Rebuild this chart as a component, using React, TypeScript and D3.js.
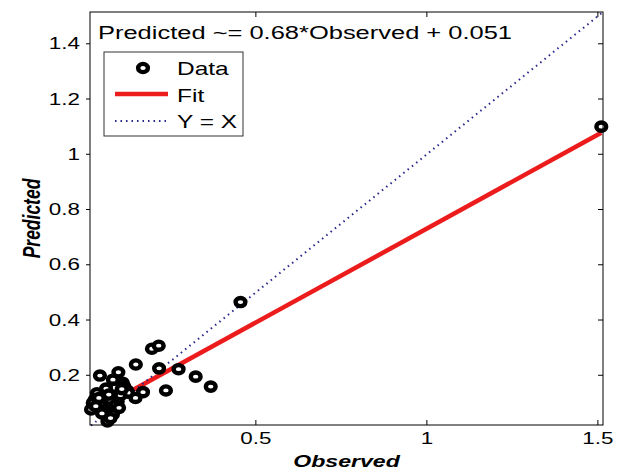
import React from "react";
import * as d3 from "d3";

// values
const observed = [
  1.51, 0.455, 0.196, 0.216, 0.149, 0.044, 0.098, 0.217, 0.274, 0.324, 0.368,
  0.237, 0.17, 0.148, 0.018, 0.066, 0.082, 0.053, 0.111, 0.088, 0.029, 0.064,
  0.096, 0.124, 0.035, 0.082, 0.044, 0.073, 0.023, 0.126, 0.075, 0.104, 0.058,
  0.115, 0.032, 0.05, 0.09, 0.062, 0.1, 0.041, 0.07, 0.108,
];
const predicted = [
  1.1, 0.465, 0.296, 0.307, 0.239, 0.199, 0.211, 0.225, 0.222, 0.195, 0.159,
  0.145, 0.139, 0.118, 0.076, 0.033, 0.058, 0.123, 0.173, 0.155, 0.112, 0.087,
  0.105, 0.145, 0.135, 0.184, 0.094, 0.112, 0.1, 0.137, 0.045, 0.128, 0.072,
  0.16, 0.088, 0.062, 0.092, 0.152, 0.082, 0.118, 0.13, 0.15,
];
const fitSlope = 0.68;
const fitIntercept = 0.051;
const xTicks = [0.5, 1, 1.5];
const yTicks = [0.2, 0.4, 0.6, 0.8, 1, 1.2, 1.4];
const legendLabels = ["Data", "Fit", "Y = X"];

const W = 627;
const H = 471;
const PLOT = { left: 90, right: 603, top: 12, bottom: 425 };
// the picture is stretched sideways, so text is too
const SX = 1.4;
const FONT = "'Liberation Sans', Arial, sans-serif";
const RED = "#ec1c1c";
const BLUE = "#26268c";

const Txt = ({ x, y, size, anchor = "start", bold = false, italic = false, rotate = 0, children }: any) => (
  <text
    transform={`translate(${x},${y}) scale(${SX},1)${rotate ? ` rotate(${rotate})` : ""}`}
    fontSize={size}
    fontFamily={FONT}
    fontWeight={bold ? "bold" : "normal"}
    fontStyle={italic ? "italic" : "normal"}
    textAnchor={anchor}
    fill="#000"
  >
    {children}
  </text>
);

const Marker = ({ cx, cy }: { cx: number; cy: number }) => (
  <ellipse cx={cx} cy={cy} rx={4.9} ry={4.1} fill="#fff" stroke="#000" strokeWidth={4.4} />
);

export default function App() {
  const x = d3.scaleLinear().domain([0.015, 1.515]).range([PLOT.left, PLOT.right]);
  const y = d3.scaleLinear().domain([0.02, 1.515]).range([PLOT.bottom, PLOT.top]);

  const [xMin, xMax] = d3.extent(observed) as [number, number];
  const line = d3
    .line<number>()
    .x((d) => x(d))
    .y((d) => y(d));
  const fitLine = d3
    .line<number>()
    .x((d) => x(d))
    .y((d) => y(fitSlope * d + fitIntercept));

  const title = `Predicted ~= ${fitSlope}*Observed + ${fitIntercept}`;

  return (
    <svg
      width={W}
      height={H}
      style={{ position: "absolute", left: 0, top: 0, display: "block", background: "#fff" }}
    >
      <rect x={0} y={0} width={W} height={H} fill="#fff" />

      {/* lines */}
      <path d={fitLine([xMin, xMax]) || ""} stroke={RED} strokeWidth={4.5} fill="none" />
      <path
        d={line([xMin, xMax]) || ""}
        stroke={BLUE}
        strokeWidth={2}
        strokeDasharray="1.5 4"
        fill="none"
      />

      {/* data */}
      {observed.map((o, i) => (
        <Marker key={i} cx={x(o)} cy={y(predicted[i])} />
      ))}

      {/* axes box */}
      <rect
        x={PLOT.left}
        y={PLOT.top}
        width={PLOT.right - PLOT.left}
        height={PLOT.bottom - PLOT.top}
        fill="none"
        stroke="#000"
        strokeWidth={1}
      />
      {xTicks.map((t) => (
        <g key={t}>
          <line x1={x(t)} x2={x(t)} y1={PLOT.bottom} y2={PLOT.bottom - 5} stroke="#000" />
          <line x1={x(t)} x2={x(t)} y1={PLOT.top} y2={PLOT.top + 5} stroke="#000" />
          <Txt x={x(t)} y={PLOT.bottom + 19} size={16} anchor="middle">
            {d3.format("~g")(t)}
          </Txt>
        </g>
      ))}
      {yTicks.map((t) => (
        <g key={t}>
          <line x1={PLOT.left} x2={PLOT.left - 4} y1={y(t)} y2={y(t)} stroke="#000" />
          <line x1={PLOT.right} x2={PLOT.right - 5} y1={y(t)} y2={y(t)} stroke="#000" />
          <Txt x={PLOT.left - 10} y={y(t) + 5.5} size={16} anchor="end">
            {d3.format("~g")(t)}
          </Txt>
        </g>
      ))}

      {/* axis labels */}
      <Txt x={(PLOT.left + PLOT.right) / 2} y={467} size={16.5} anchor="middle" bold italic>
        Observed
      </Txt>
      <Txt x={40} y={(PLOT.top + PLOT.bottom) / 2} size={17.5} anchor="middle" bold italic rotate={-90}>
        Predicted
      </Txt>

      {/* equation */}
      <Txt x={98} y={39} size={18.2}>
        {title}
      </Txt>

      {/* legend */}
      <rect x={104} y={52} width={139} height={84} fill="#fff" stroke="#333" strokeWidth={1} />
      <Marker cx={143} cy={68} />
      <line x1={115} x2={168} y1={94} y2={94} stroke={RED} strokeWidth={4.5} />
      <line x1={115} x2={168} y1={121} y2={121} stroke={BLUE} strokeWidth={2} strokeDasharray="1.5 4" />
      {legendLabels.map((l, i) => (
        <Txt key={l} x={177} y={75 + i * 26.5} size={17.5}>
          {l}
        </Txt>
      ))}
    </svg>
  );
}
